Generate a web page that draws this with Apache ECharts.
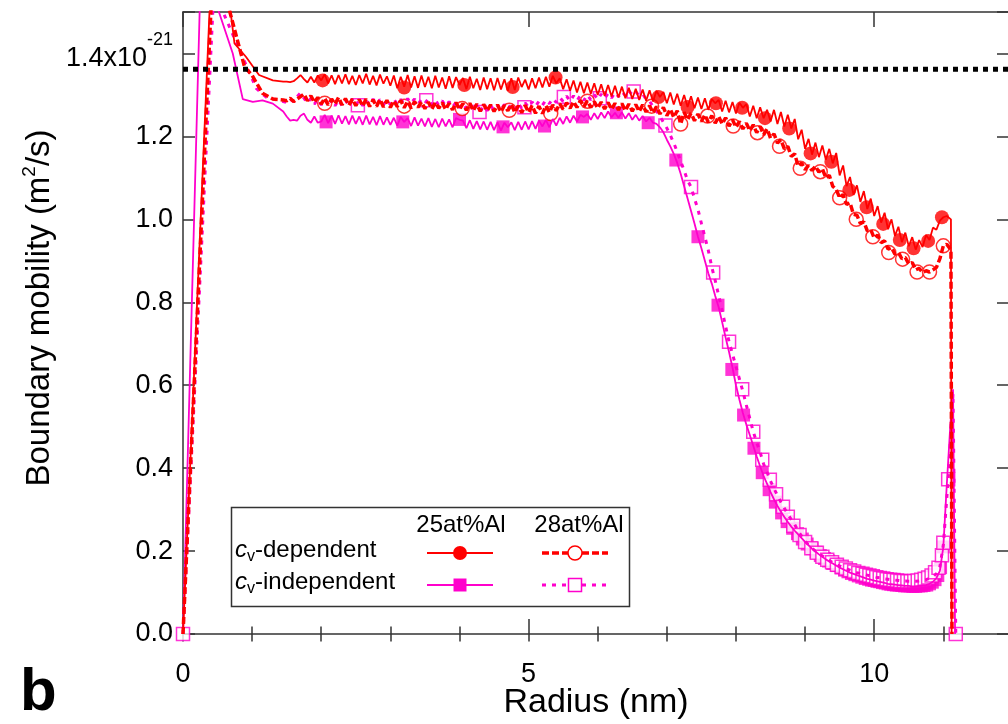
<!DOCTYPE html>
<html><head><meta charset="utf-8">
<script src="https://cdn.jsdelivr.net/npm/echarts@6/dist/echarts.min.js"></script>
<style>html,body{margin:0;padding:0;background:#fff}#c{width:1008px;height:724px}</style>
</head><body><div id="c"></div>
<script>
// ---------- data ----------
const radiusGrid = [
1.5,1.55,1.6,1.65,1.7,1.75,1.8,1.85,1.9,1.95,
2,2.05,2.1,2.15,2.2,2.25,2.3,2.35,2.4,2.45,
2.5,2.55,2.6,2.65,2.7,2.75,2.8,2.85,2.9,2.95,
3,3.05,3.1,3.15,3.2,3.25,3.3,3.35,3.4,3.45,
3.5,3.55,3.6,3.65,3.7,3.75,3.8,3.85,3.9,3.95,
4,4.05,4.1,4.15,4.2,4.25,4.3,4.35,4.4,4.45,
4.5,4.55,4.6,4.65,4.7,4.75,4.8,4.85,4.9,4.95,
5,5.05,5.1,5.15,5.2,5.25,5.3,5.35,5.4,5.45,
5.5,5.55,5.6,5.65,5.7,5.75,5.8,5.85,5.9,5.95,
6,6.05,6.1,6.15,6.2,6.25,6.3,6.35,6.4,6.45,
6.5,6.55,6.6,6.65,6.7,6.75,6.8,6.85,6.9,6.95,
7,7.05,7.1,7.15,7.2,7.25,7.3,7.35,7.4,7.45,
7.5,7.55,7.6,7.65,7.7,7.75,7.8,7.85,7.9,7.95,
8,8.05,8.1,8.15,8.2,8.25,8.3,8.35,8.4,8.45,
8.5,8.55,8.6,8.65,8.7,8.75,8.8,8.85,8.9,8.95,
9,9.05,9.1,9.15,9.2,9.25,9.3,9.35,9.4,9.45,
9.5,9.55,9.6,9.65,9.7,9.75,9.8,9.85,9.9,9.95,
10,10.05,10.1,10.15,10.2,10.25,10.3,10.35,10.4,10.45,
10.5,10.55,10.6,10.65,10.7,10.75,10.8,10.85,10.9,10.95,
11];

// 25at%Al, cv-dependent (red solid)
const redSolidHead = [[0,0],[0.46,1.8],[0.6,1.62],[0.745,1.424],[0.91,1.392],[1.1,1.348],[1.3,1.335],[1.45,1.332]];
const redSolidBody = [
1.332,1.331,1.333,1.340,1.348,1.338,1.330,1.344,1.330,1.347,
1.335,1.350,1.328,1.347,1.326,1.348,1.328,1.350,1.326,1.346,
1.324,1.348,1.328,1.351,1.325,1.346,1.323,1.349,1.327,1.345,
1.322,1.347,1.316,1.344,1.320,1.348,1.318,1.345,1.317,1.347,
1.319,1.344,1.316,1.346,1.318,1.342,1.315,1.345,1.317,1.343,
1.324,1.341,1.314,1.344,1.316,1.339,1.312,1.342,1.314,1.340,
1.311,1.341,1.313,1.338,1.310,1.340,1.312,1.342,1.319,1.337,
1.313,1.340,1.316,1.342,1.318,1.344,1.320,1.346,1.328,1.340,
1.314,1.338,1.310,1.335,1.306,1.332,1.304,1.330,1.303,1.328,
1.300,1.326,1.298,1.324,1.296,1.322,1.294,1.320,1.292,1.317,
1.290,1.315,1.288,1.313,1.286,1.311,1.284,1.310,1.295,1.307,
1.280,1.306,1.277,1.303,1.274,1.300,1.271,1.297,1.268,1.294,
1.266,1.292,1.264,1.290,1.280,1.288,1.260,1.286,1.258,1.283,
1.255,1.281,1.269,1.278,1.248,1.274,1.244,1.270,1.244,1.264,
1.236,1.264,1.230,1.259,1.224,1.252,1.219,1.242,1.193,1.216,
1.170,1.194,1.156,1.185,1.150,1.178,1.144,1.170,1.135,1.160,
1.106,1.130,1.080,1.102,1.059,1.082,1.042,1.068,1.025,1.050,
1.008,1.032,0.992,1.016,0.976,1.000,0.960,0.982,0.945,0.968,
0.935,0.957,0.927,0.950,0.933,0.962,0.950,0.980,0.975,0.997,
1.005];
const redSolidTail = [[11.05,1.008],[11.11,1.0],[11.12,0]];
const redFilledCircles = [[2.02,1.335],[3.2,1.318],[4.07,1.324],[4.77,1.319],[5.39,1.342],[6.88,1.295],[7.3,1.271],[7.71,1.28],[8.09,1.269],[8.42,1.244],[8.77,1.219],[9.08,1.159],[9.38,1.139],[9.64,1.071],[9.89,1.029],[10.13,0.989],[10.37,0.95],[10.57,0.93],[10.78,0.948],[10.98,1.005]];

// 28at%Al, cv-dependent (red dashed)
const redDashedHead = [[0,0],[0.47,1.75],[0.55,1.58],[0.89,1.368],[1.0,1.347],[1.15,1.304],[1.3,1.29],[1.45,1.288]];
const redDashedBody = [
1.286,1.292,1.284,1.290,1.296,1.302,1.286,1.298,1.282,1.294,
1.278,1.292,1.276,1.290,1.278,1.294,1.276,1.291,1.275,1.290,
1.274,1.289,1.273,1.290,1.272,1.288,1.272,1.289,1.271,1.287,
1.270,1.286,1.272,1.287,1.269,1.285,1.268,1.284,1.270,1.283,
1.267,1.283,1.266,1.282,1.268,1.281,1.265,1.280,1.264,1.282,
1.265,1.279,1.263,1.280,1.262,1.278,1.261,1.277,1.262,1.276,
1.260,1.276,1.259,1.275,1.262,1.277,1.258,1.274,1.257,1.275,
1.258,1.274,1.256,1.273,1.255,1.274,1.258,1.276,1.262,1.279,
1.265,1.281,1.268,1.284,1.270,1.287,1.272,1.286,1.270,1.284,
1.268,1.283,1.266,1.282,1.265,1.280,1.264,1.279,1.262,1.278,
1.261,1.277,1.260,1.276,1.259,1.274,1.257,1.272,1.254,1.270,
1.250,1.266,1.246,1.262,1.230,1.258,1.240,1.256,1.238,1.254,
1.236,1.252,1.234,1.250,1.232,1.248,1.230,1.245,1.225,1.240,
1.222,1.236,1.218,1.232,1.214,1.228,1.209,1.224,1.204,1.218,
1.196,1.206,1.184,1.192,1.170,1.176,1.152,1.158,1.128,1.136,
1.120,1.130,1.118,1.128,1.114,1.122,1.100,1.106,1.080,1.072,
1.052,1.060,1.036,1.040,1.012,1.010,0.990,0.994,0.972,0.975,
0.955,0.962,0.944,0.948,0.928,0.932,0.916,0.920,0.905,0.908,
0.892,0.896,0.878,0.882,0.872,0.876,0.873,0.878,0.884,0.905,
0.936];
const redDashedTail = [[11.05,0.94],[11.11,0.926],[11.125,0]];
const redOpenCircles = [[2.05,1.28],[3.2,1.273],[4.04,1.267],[4.72,1.263],[5.32,1.255],[5.85,1.285],[6.78,1.273],[7.2,1.23],[7.59,1.249],[7.96,1.225],[8.31,1.209],[8.63,1.176],[8.93,1.123],[9.22,1.115],[9.5,1.052],[9.74,1.0],[9.98,0.958],[10.21,0.92],[10.41,0.904],[10.62,0.873],[10.8,0.873],[11.0,0.936]];

// 25at%Al, cv-independent (magenta solid)
const magSolidHead = [[0,0],[0.3,1.87],[0.4,1.56],[0.72,1.4],[0.865,1.29],[1.01,1.283],[1.15,1.287],[1.3,1.279],[1.45,1.26]];
const magSolidBody = [
1.248,1.238,1.240,1.238,1.250,1.255,1.240,1.233,1.248,1.233,
1.236,1.252,1.232,1.250,1.230,1.251,1.231,1.249,1.229,1.250,
1.230,1.248,1.228,1.250,1.229,1.247,1.227,1.249,1.228,1.246,
1.228,1.245,1.226,1.247,1.235,1.244,1.225,1.246,1.226,1.243,
1.224,1.244,1.223,1.242,1.222,1.243,1.224,1.241,1.222,1.244,
1.240,1.238,1.220,1.239,1.218,1.237,1.217,1.236,1.216,1.235,
1.215,1.234,1.214,1.233,1.222,1.234,1.215,1.235,1.216,1.236,
1.217,1.237,1.218,1.238,1.224,1.240,1.222,1.242,1.226,1.245,
1.230,1.248,1.233,1.250,1.236,1.252,1.247,1.254,1.240,1.256,
1.242,1.258,1.244,1.260,1.246,1.257,1.245,1.258,1.243,1.256,
1.240,1.252,1.238,1.249,1.236,1.245,1.233,1.230,1.222,1.210,
1.192,1.176,1.158,1.136,1.110,1.080,1.050,1.020,0.990,0.958,
0.930,0.900,0.870,0.845,0.815,0.788,0.752,0.715,0.680,0.642,
0.600,0.565,0.533,0.505,0.480,0.454,0.428,0.404,0.381,0.362,
0.342,0.325,0.309,0.295,0.282,0.270,0.259,0.249,0.240,0.231,
0.222,0.214,0.206,0.199,0.192,0.186,0.180,0.175,0.170,0.165,
0.160,0.156,0.152,0.148,0.145,0.142,0.139,0.136,0.133,0.131,
0.129,0.127,0.125,0.123,0.121,0.120,0.119,0.118,0.117,0.116,
0.116,0.115,0.115,0.116,0.117,0.118,0.121,0.126,0.135,0.152,
0.21];
const magSolidTail = [[11.05,0.36],[11.1,0.5],[11.14,0.59],[11.17,0]];
const magFilledSquares = [[2.07,1.235],[3.18,1.235],[4.0,1.241],[4.63,1.223],[5.23,1.225],[5.78,1.247],[6.27,1.257],[6.73,1.233],[7.13,1.143],[7.45,0.958],[7.74,0.793],[7.94,0.638],[8.11,0.528],[8.26,0.448],[8.38,0.389],[8.48,0.348],[8.57,0.318],[8.66,0.292],[8.74,0.271],[8.82,0.255],[8.89,0.242],[8.96,0.229],[9.03,0.217],[9.1,0.206],[9.16,0.197],[9.22,0.189],[9.28,0.182],[9.34,0.176],[9.4,0.17],[9.46,0.165],[9.52,0.159],[9.57,0.154],[9.62,0.15],[9.67,0.146],[9.72,0.143],[9.77,0.14],[9.82,0.137],[9.87,0.134],[9.92,0.132],[9.96,0.13],[10.0,0.129],[10.04,0.127],[10.08,0.126],[10.12,0.124],[10.16,0.123],[10.2,0.121],[10.24,0.12],[10.28,0.119],[10.32,0.118],[10.36,0.118],[10.4,0.117],[10.44,0.116],[10.48,0.116],[10.52,0.116],[10.56,0.115],[10.6,0.115],[10.64,0.116],[10.68,0.116],[10.72,0.117],[10.76,0.118],[10.8,0.121],[10.84,0.125],[10.88,0.131],[10.92,0.141],[10.96,0.16],[11.0,0.21]];

// 28at%Al, cv-independent (magenta dotted)
const magDottedHead = [[0,0],[0.46,1.6],[0.5,1.53],[1.06,1.316],[1.2,1.295],[1.35,1.288]];
const magDottedBody = [
1.282,1.290,1.284,1.296,1.305,1.292,1.280,1.292,1.278,1.290,
1.276,1.290,1.275,1.289,1.274,1.288,1.274,1.287,1.276,1.289,
1.275,1.288,1.274,1.287,1.276,1.290,1.277,1.289,1.276,1.288,
1.277,1.290,1.278,1.289,1.279,1.291,1.280,1.290,1.278,1.289,
1.280,1.291,1.277,1.288,1.275,1.286,1.273,1.284,1.271,1.282,
1.269,1.280,1.267,1.278,1.264,1.276,1.259,1.274,1.262,1.275,
1.263,1.276,1.264,1.277,1.266,1.278,1.266,1.279,1.268,1.281,
1.270,1.283,1.272,1.285,1.275,1.288,1.279,1.291,1.282,1.294,
1.284,1.297,1.285,1.298,1.286,1.299,1.287,1.300,1.288,1.301,
1.289,1.302,1.291,1.304,1.293,1.306,1.296,1.308,1.298,1.310,
1.300,1.308,1.298,1.302,1.290,1.285,1.272,1.262,1.248,1.234,
1.220,1.203,1.184,1.163,1.140,1.118,1.094,1.078,1.050,1.024,
0.990,0.958,0.925,0.885,0.852,0.816,0.780,0.742,0.705,0.675,
0.645,0.615,0.585,0.552,0.520,0.488,0.462,0.438,0.410,0.390,
0.369,0.351,0.334,0.318,0.303,0.289,0.276,0.264,0.248,0.236,
0.224,0.215,0.207,0.200,0.194,0.188,0.182,0.177,0.172,0.168,
0.164,0.160,0.157,0.154,0.151,0.148,0.146,0.144,0.142,0.140,
0.138,0.136,0.135,0.133,0.132,0.131,0.130,0.129,0.128,0.128,
0.127,0.127,0.127,0.128,0.129,0.131,0.134,0.138,0.146,0.162,
0.215];
const magDottedTail = [[11.07,0.373],[11.14,0.58],[11.18,0]];
const magOpenSquares = [[0,0],[2.53,1.275],[3.52,1.287],[4.29,1.259],[4.94,1.27],[5.51,1.295],[6.03,1.292],[6.52,1.308],[6.98,1.226],[7.35,1.078],[7.67,0.872],[7.9,0.705],[8.09,0.59],[8.25,0.488],[8.38,0.42],[8.49,0.372],[8.58,0.337],[8.68,0.307],[8.75,0.283],[8.83,0.261],[8.92,0.239],[9.0,0.222],[9.09,0.207],[9.17,0.196],[9.25,0.186],[9.32,0.179],[9.39,0.173],[9.46,0.167],[9.53,0.162],[9.59,0.158],[9.65,0.154],[9.71,0.151],[9.77,0.147],[9.83,0.145],[9.88,0.143],[9.93,0.141],[9.98,0.139],[10.03,0.137],[10.08,0.135],[10.13,0.134],[10.18,0.132],[10.23,0.131],[10.28,0.13],[10.33,0.129],[10.38,0.128],[10.43,0.128],[10.48,0.127],[10.53,0.127],[10.58,0.128],[10.63,0.129],[10.68,0.131],[10.73,0.133],[10.78,0.136],[10.83,0.141],[10.88,0.149],[10.93,0.16],[10.98,0.19],[11.0,0.22],[11.07,0.373],[11.18,0]];

// reference level (black dotted)
const refLevel = [[0,1.362],[11.95,1.362]];

const xTickLabels = ['0','5','10'];
const yTickLabels = ['0.0','0.2','0.4','0.6','0.8','1.0','1.2','1.4'];

// ---------- chart ----------
const FF = '"Liberation Sans", Arial, Helvetica, sans-serif';
const RED = '#ff0000';
const MAG = '#ff00cc';
const AX = {color:'#333', width:1.5};
const X_MAX = 11.95;

function assemble(head, body, tail){
  return head.concat(radiusGrid.map((x,i)=>[x, body[i]]), tail);
}

const chart = echarts.init(document.getElementById('c'), null, {renderer:'canvas'});

const xBase = {type:'value', min:0, max:X_MAX, splitLine:{show:false}};
const option = {
  animation:false,
  backgroundColor:'#fff',
  textStyle:{fontFamily:FF},
  grid:{left:183, right:-1, top:12, bottom:90, containLabel:false, outerBoundsMode:'none'},
  xAxis:[
    Object.assign({}, xBase, {position:'bottom', interval:5,
      axisLine:{show:true, onZero:false, lineStyle:AX},
      axisTick:{show:true, inside:true, length:15, lineStyle:AX},
      axisLabel:{show:true, fontSize:27, margin:27, color:'#000', fontFamily:FF,
        formatter:(v)=>{const i=Math.round(v/5); return (Math.abs(v-5*i)<1e-6 && xTickLabels[i]!==undefined)?xTickLabels[i]:'';}},
      name:'Radius (nm)', nameLocation:'middle', nameGap:52, nameMoveOverlap:false,
      nameTextStyle:{fontSize:34, color:'#000', fontFamily:FF}}),
    Object.assign({}, xBase, {position:'bottom', interval:1,
      axisLine:{show:false}, axisTick:{show:true, inside:true, length:7.5, lineStyle:AX}, axisLabel:{show:false}}),
    Object.assign({}, xBase, {position:'top', interval:5,
      axisLine:{show:true, onZero:false, lineStyle:AX},
      axisTick:{show:true, inside:true, length:15, lineStyle:AX}, axisLabel:{show:false}}),
    Object.assign({}, xBase, {position:'top', interval:1,
      axisLine:{show:false}, axisTick:{show:true, inside:true, length:7.5, lineStyle:AX}, axisLabel:{show:false}})
  ],
  yAxis:[
    {type:'value', position:'left', min:0, max:1.5, interval:0.2, splitLine:{show:false},
      axisLine:{show:true, onZero:false, lineStyle:AX},
      axisTick:{show:true, inside:true, length:12, lineStyle:AX},
      axisLabel:{show:true, fontSize:27, margin:10, color:'#000', fontFamily:FF,
        formatter:(v)=>{
          const i=Math.round(v/0.2);
          if (Math.abs(v-0.2*i)>1e-6 || yTickLabels[i]===undefined) return '';
          if (i===7) return '{m|' + yTickLabels[i] + 'x10}{s|-21}';
          return yTickLabels[i];
        },
        rich:{
          m:{fontSize:27, lineHeight:30, padding:[10,0,0,0], color:'#000', fontFamily:FF},
          s:{fontSize:18, lineHeight:18, padding:[0,0,26,0], color:'#000', fontFamily:FF}
        }},
      name:'{t|Boundary mobility (m}{s|2}{t|/s)}', nameLocation:'middle', nameRotate:90, nameGap:127, nameMoveOverlap:false,
      nameTextStyle:{padding:[0,0,0,30],
        rich:{
          t:{fontSize:33, lineHeight:36, verticalAlign:'bottom', color:'#000', fontFamily:FF},
          s:{fontSize:19, lineHeight:19, verticalAlign:'top', padding:[0,0,27,0], color:'#000', fontFamily:FF}
        }}},
    {type:'value', position:'right', min:0, max:1.5, interval:0.2, splitLine:{show:false},
      axisLine:{show:true, onZero:false, lineStyle:AX},
      axisTick:{show:true, inside:true, length:12, lineStyle:AX}, axisLabel:{show:false}}
  ],
  series:[
    {type:'line', name:'25at%Al cv-independent', data:assemble(magSolidHead, magSolidBody, magSolidTail),
      symbol:'none', showSymbol:false, lineStyle:{color:MAG, width:1.8}, silent:true},
    {type:'scatter', name:'25at%Al cv-independent markers', data:magFilledSquares, symbol:'rect', symbolSize:13,
      itemStyle:{color:MAG}, silent:true},
    {type:'line', name:'28at%Al cv-independent', data:assemble(magDottedHead, magDottedBody, magDottedTail),
      symbol:'none', showSymbol:false, lineStyle:{color:MAG, width:3, type:[4,6], cap:'butt'}, silent:true},
    {type:'scatter', name:'28at%Al cv-independent markers', data:magOpenSquares, symbol:'rect', symbolSize:13,
      itemStyle:{color:'#fff', borderColor:MAG, borderWidth:1.5}, silent:true},
    {type:'line', name:'28at%Al cv-dependent', data:assemble(redDashedHead, redDashedBody, redDashedTail),
      symbol:'none', showSymbol:false, lineStyle:{color:RED, width:3.5, type:[7,3], cap:'butt'}, silent:true},
    {type:'scatter', name:'28at%Al cv-dependent markers', data:redOpenCircles, symbol:'circle', symbolSize:14,
      itemStyle:{color:'#fff', borderColor:RED, borderWidth:1.5}, silent:true},
    {type:'line', name:'25at%Al cv-dependent', data:assemble(redSolidHead, redSolidBody, redSolidTail),
      symbol:'none', showSymbol:false, lineStyle:{color:RED, width:1.8}, silent:true},
    {type:'scatter', name:'25at%Al cv-dependent markers', data:redFilledCircles, symbol:'circle', symbolSize:14,
      itemStyle:{color:RED}, silent:true},
    {type:'line', name:'reference', data:refLevel, symbol:'none', showSymbol:false,
      lineStyle:{color:'#000', width:5, type:[5,5], cap:'butt'}, silent:true}
  ],
  graphic:[
    {type:'rect', shape:{x:231.5, y:507.5, width:398, height:99}, style:{fill:'#fff', stroke:'#333', lineWidth:1.5}, z:100},
    {type:'text', x:461, y:525, z:101, style:{text:'25at%Al', fontSize:24, fontFamily:FF, fill:'#000', align:'center', verticalAlign:'middle'}},
    {type:'text', x:579, y:525, z:101, style:{text:'28at%Al', fontSize:24, fontFamily:FF, fill:'#000', align:'center', verticalAlign:'middle'}},
    {type:'text', x:235, y:550, z:101, style:{text:'{i|c}{s|v}{n|-dependent}', align:'left', verticalAlign:'middle',
      rich:{i:{fontSize:24, fontStyle:'italic', lineHeight:30, fontFamily:FF, fill:'#000'},
            s:{fontSize:16, lineHeight:16, verticalAlign:'bottom', fontFamily:FF, fill:'#000'},
            n:{fontSize:24, lineHeight:30, fontFamily:FF, fill:'#000'}}}},
    {type:'text', x:235, y:582, z:101, style:{text:'{i|c}{s|v}{n|-independent}', align:'left', verticalAlign:'middle',
      rich:{i:{fontSize:24, fontStyle:'italic', lineHeight:30, fontFamily:FF, fill:'#000'},
            s:{fontSize:16, lineHeight:16, verticalAlign:'bottom', fontFamily:FF, fill:'#000'},
            n:{fontSize:24, lineHeight:30, fontFamily:FF, fill:'#000'}}}},
    {type:'line', z:101, shape:{x1:427, y1:553, x2:493, y2:553}, style:{stroke:RED, lineWidth:1.8}},
    {type:'circle', z:102, shape:{cx:460, cy:553, r:7}, style:{fill:RED}},
    {type:'line', z:101, shape:{x1:542, y1:553, x2:608, y2:553}, style:{stroke:RED, lineWidth:3.5, lineDash:[7,3]}},
    {type:'circle', z:102, shape:{cx:575, cy:553, r:7}, style:{fill:'#fff', stroke:RED, lineWidth:1.5}},
    {type:'line', z:101, shape:{x1:427, y1:585, x2:493, y2:585}, style:{stroke:MAG, lineWidth:1.8}},
    {type:'rect', z:102, shape:{x:453.5, y:578.5, width:13, height:13}, style:{fill:MAG}},
    {type:'line', z:101, shape:{x1:542, y1:585, x2:608, y2:585}, style:{stroke:MAG, lineWidth:3, lineDash:[4,6]}},
    {type:'rect', z:102, shape:{x:568.5, y:578.5, width:13, height:13}, style:{fill:'#fff', stroke:MAG, lineWidth:1.5}},
    {type:'text', x:20, y:693, z:101, style:{text:'b', fontSize:60, fontWeight:'bold', fontFamily:FF, fill:'#000', align:'left', verticalAlign:'middle'}}
  ]
};
chart.setOption(option);
</script>
</body></html>
